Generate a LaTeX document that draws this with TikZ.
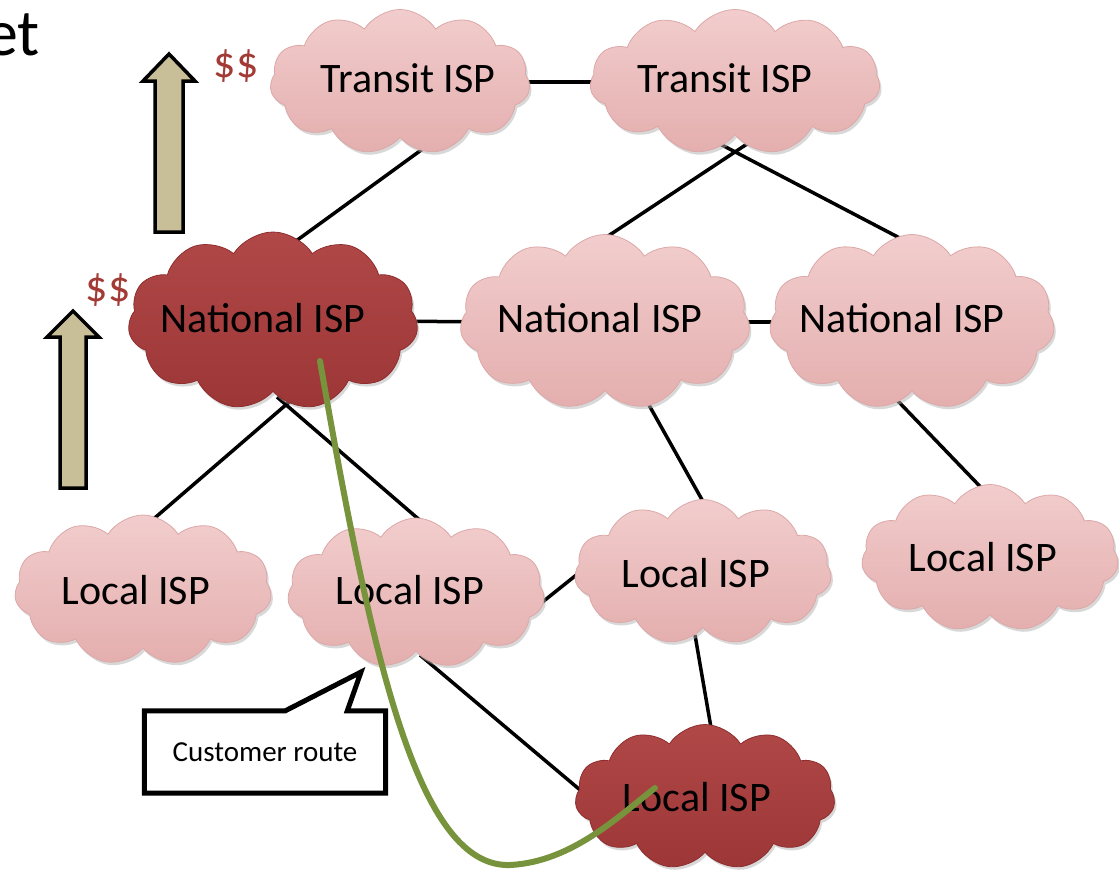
\documentclass[tikz,border=0pt]{standalone}
\usepackage{fontspec}
\setmainfont{Carlito}
\usetikzlibrary{shapes.symbols,calc,shadows,backgrounds}
\definecolor{pinkhi}{HTML}{F2CDCD}
\definecolor{pinklo}{HTML}{E4AEAE}
\definecolor{pinkedge}{HTML}{DCA8A8}
\definecolor{darkhi}{HTML}{B04848}
\definecolor{darklo}{HTML}{9D3636}
\definecolor{darkedge}{HTML}{8E2E2E}
\definecolor{arrowfill}{HTML}{C8BF98}
\definecolor{money}{HTML}{A23A35}
\definecolor{routegreen}{HTML}{77933C}
\tikzset{
  isp/.style={cloud, cloud puffs=11, cloud puff arc=115, cloud ignores aspect,
    inner sep=0pt, draw=pinkedge, line width=0.8pt,
    top color=pinkhi, bottom color=pinklo,
    drop shadow={shadow xshift=2pt, shadow yshift=-3pt, fill=black!30, opacity=0.5}},
  ispdark/.style={isp, draw=darkedge, top color=darkhi, bottom color=darklo},
  isptext/.style={font=\fontsize{42}{48}\selectfont, text=black, inner sep=0pt},
  money/.style={font=\fontsize{44}{48}\selectfont, text=money, inner sep=0pt},
  link/.style={line width=3.5pt, black},
  uparrow/.style={draw=black, line width=3.5pt, fill=arrowfill, line join=miter},
  route/.style={line width=6pt, routegreen, line cap=round},
  callout/.style={draw=black, line width=5pt, fill=white, line join=miter}
}
\begin{document}
\begin{tikzpicture}[x=1pt,y=-1pt]
\useasboundingbox (0,0) rectangle (1119,873);

% clouds
\node[isp, minimum width=260pt, minimum height=145pt] (t1) at (400,82) {};
\node[isp, minimum width=290pt, minimum height=145pt] (t2) at (735,82) {};
\node[ispdark, minimum width=290pt, minimum height=178pt] (n1) at (273,321) {};
\node[isp, minimum width=290pt, minimum height=175pt] (n2) at (605,322) {};
\node[isp, minimum width=285pt, minimum height=175pt] (n3) at (912,322) {};
\node[isp, minimum width=257pt, minimum height=150pt] (l1) at (143,590) {};
\node[isp, minimum width=257pt, minimum height=150pt] (l2) at (416,593) {};
\node[isp, minimum width=257pt, minimum height=145pt] (l3) at (703,572) {};
\node[isp, minimum width=257pt, minimum height=147pt] (l4) at (990,558) {};
\node[ispdark, minimum width=260pt, minimum height=145pt] (l5) at (705,797) {};

% connectors behind clouds
\begin{scope}[on background layer]
\draw[link] (t1.center) -- (t2.center);
\draw[link] (n1.center) -- (n2.center);
\draw[link] (n2.center) -- (n3.center);
\draw[link] ($(t1)+(35,58)$) -- ($(n1)+(12,-72)$);
\draw[link] ($(t2)+(15,60)$) -- ($(n2)+(-15,-74)$);
\draw[link] ($(t2)+(-15,62)$) -- ($(n3)+(3,-76)$);
\draw[link] ($(n1)+(22,76)$) -- ($(l1)+(-8,-55)$);
\draw[link] ($(n1)+(4,76)$) -- ($(l2)+(21,-58)$);
\draw[link] ($(n2)+(35,67)$) -- ($(l3)+(7,-58)$);
\draw[link] ($(n3)+(-17,76)$) -- ($(l4)+(5,-56)$);
\draw[link] ($(l2)+(119,15)$) -- ($(l3)+(-113,-8)$);
\draw[link] ($(l2)+(4,62)$) -- ($(l5)+(-113,3)$);
\draw[link] ($(l3)+(-8,63)$) -- ($(l5)+(9,-52)$);
\end{scope}

% labels
\node[isptext] (t1t) at ($(t1)+(8,-4)$) {Transit ISP};
\node[isptext] (t2t) at ($(t2)+(-10,-4)$) {Transit ISP};
\node[isptext] (n1t) at ($(n1)+(-10,-3)$) {National ISP};
\node[isptext] (n2t) at ($(n2)+(-5,-4)$) {National ISP};
\node[isptext] (n3t) at ($(n3)+(-10,-4)$) {National ISP};
\node[isptext] (l1t) at ($(l1)+(-7,0)$) {Local ISP};
\node[isptext] (l2t) at ($(l2)+(-6,-3)$) {Local ISP};
\node[isptext] (l3t) at ($(l3)+(-7,1)$) {Local ISP};
\node[isptext] (l4t) at ($(l4)+(-7,-1)$) {Local ISP};
\node[isptext] (l5t) at ($(l5)+(-8,0)$) {Local ISP};

% title fragment
\node[anchor=base east, font=\fontsize{66}{70}\selectfont, inner sep=0pt] (title) at (40,55) {et};

% money
\node[money] (m1) at (236,66) {\$\$};
\node[money] (m2) at (108,290) {\$\$};

% up arrows
\draw[uparrow] (155,232) -- (155,81) -- (143,81) -- (169,54) -- (195,81) -- (183,81) -- (183,232) -- cycle;
\draw[uparrow] (60,488) -- (60,337) -- (47,337) -- (73,311) -- (99,337) -- (86,337) -- (86,488) -- cycle;

% customer route curve
\coordinate (rs) at ($(n1)+(47,40)$);
\coordinate (re) at ($(l5)+(-50,-9)$);
\coordinate (rb) at (510,865);
\draw[route] (rs) .. controls (372,660) and (418,868) .. (rb) .. controls (572,862) and (620,815) .. (re);

% callout
\node[minimum width=241pt, minimum height=82pt, inner sep=0pt] (cr) at (265,752) {};
\coordinate (tip) at (361,672);
\draw[callout] (cr.north west) -- ($(cr.north west)+(141,0)$) -- (tip) -- ($(cr.north west)+(203,0)$) -- (cr.north east) -- (cr.south east) -- (cr.south west) -- cycle;
\node[font=\fontsize{29}{33}\selectfont, inner sep=0pt] (crt) at (cr.center) {Customer route};
\end{tikzpicture}
\end{document}
